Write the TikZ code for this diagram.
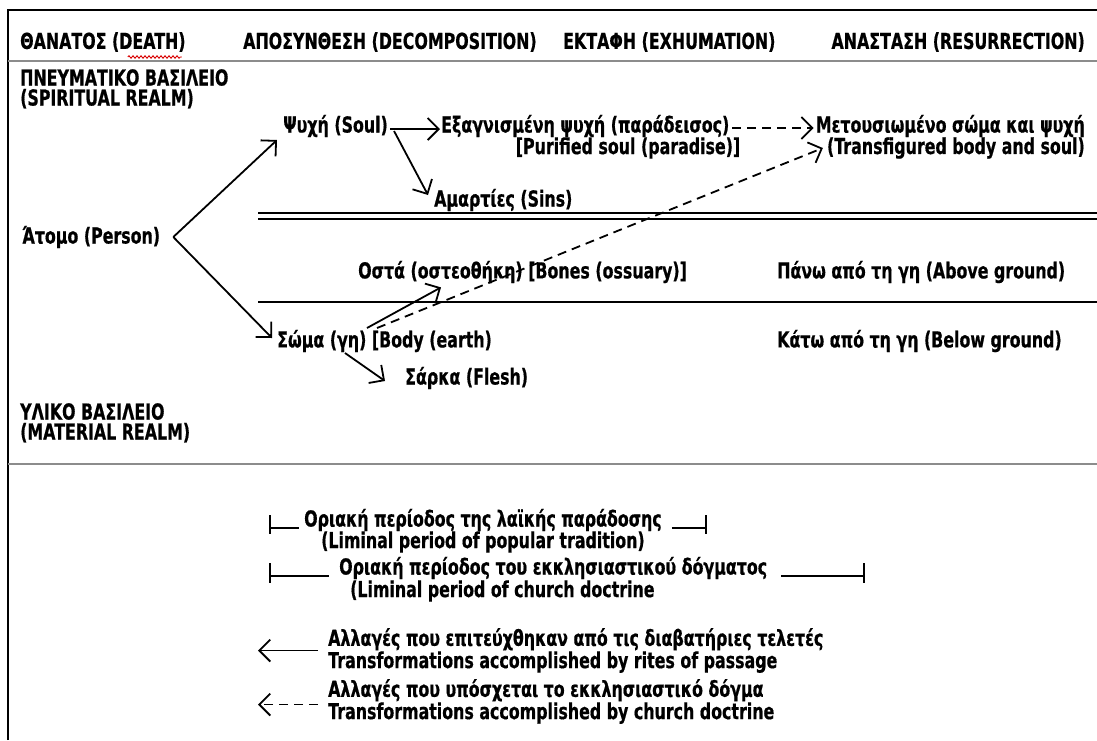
\documentclass[tikz,border=0pt]{standalone}
\usepackage{fontspec}
\newfontfamily\hand{DejaVu Sans}[FakeStretch=0.72,FakeBold=0.6]
\usetikzlibrary{arrows.meta,calc,decorations.pathmorphing}
\tikzset{
  txt/.style={inner sep=0pt, anchor=west, font=\hand\bfseries\fontsize{22}{20}\selectfont},
  two/.style={txt, align=left, anchor=north west},
  arr/.style={line width=1.8pt, -{Straight Barb[length=11pt,width=22pt]}},
  darr/.style={arr, dash pattern=on 9pt off 6pt},
  rule/.style={line width=2pt},
  grayrule/.style={line width=1.2pt, black!45},
  frame/.style={line width=1.6pt},
  tick/.style={line width=1.8pt}
}
\begin{document}
\begin{tikzpicture}[x=1pt,y=-1pt]
\useasboundingbox (0,0) rectangle (1097,740);
\fill[white] (0,0) rectangle (1097,740);
% frame and separators
\draw[frame] (8,740) -- (8,10) -- (1097,10);
\draw[grayrule] (8,61) -- (1097,61);
\draw[grayrule] (8,464) -- (1097,464);
% header
\node[txt] (h1) at (20,42) {ΘΑΝΑΤΟΣ (DEATH)};
\node[txt] (h2) at (243,42) {ΑΠΟΣΥΝΘΕΣΗ (DECOMPOSITION)};
\node[txt] (h3) at (563,42) {ΕΚΤΑΦΗ (EXHUMATION)};
\node[txt, anchor=east] (h4) at (1085,42) {ΑΝΑΣΤΑΣΗ (RESURRECTION)};
\draw[red!85!black, line width=0.9pt, decorate, decoration={snake, amplitude=1.2pt, segment length=4pt}]
  ($(h1.south east)+(-58,5)$) -- ($(h1.south east)+(-4,5)$);
% realms
\node[two] (spirit) at (20,69) {ΠΝΕΥΜΑΤΙΚΟ ΒΑΣΙΛΕΙΟ\\(SPIRITUAL REALM)};
\node[two] (matter) at (20,403) {ΥΛΙΚΟ ΒΑΣΙΛΕΙΟ\\(MATERIAL REALM)};
% ground lines
\draw[rule] (258,213) -- (1097,213);
\draw[rule] (258,219) -- (1097,219);
\draw[rule] (258,302) -- (1097,302);
% main nodes
\node[txt] (atomo) at (22,237) {Άτομο (Person)};
\node[txt] (psy) at (283,126) {Ψυχή (Soul)};
\node[txt] (puri) at (441,126) {Εξαγνισμένη ψυχή (παράδεισος)};
\node[txt, anchor=center] (purien) at (628,148) {[Purified soul (paradise)]};
\node[txt, anchor=east] (trans) at (1085,126) {Μετουσιωμένο σώμα και ψυχή};
\node[txt, anchor=east] (transen) at (1085,148) {(Transfigured body and soul)};
\node[txt] (sins) at (434,200) {Αμαρτίες (Sins)};
\node[txt] (osta) at (358,272) {Οστά (οστεοθήκη) [Bones (ossuary)]};
\node[txt] (above) at (777,272) {Πάνω από τη γη (Above ground)};
\node[txt] (soma) at (277,341) {Σώμα (γη) [Body (earth)};
\node[txt] (below) at (777,341) {Κάτω από τη γη (Below ground)};
\node[txt] (flesh) at (405,378) {Σάρκα (Flesh)};
% connector points
\coordinate (av) at ($(atomo.east)+(13,0)$);
\coordinate (psyin) at ($(psy.west)+(-6,14)$);
\coordinate (somain) at ($(soma.west)+(-5,-3)$);
% connectors
\draw[arr] (av) -- (psyin);
\draw[arr] (av) -- (somain);
\draw[arr] ($(psy.east)+(2,3)$) -- ($(puri.west)+(-1,3)$);
\draw[arr] ($(psy.east)+(6,5)$) -- ($(sins.west)+(-6,-5)$);
\draw[darr] ($(puri.east)+(3,2)$) -- ($(trans.west)+(-2,2)$);
\draw[arr] ($(soma.west)+(90,-13)$) -- ($(osta.south west)+(83,4)$);
\draw[darr] ($(soma.west)+(100,-13)$) -- ($(transen.west)+(-4,0)$);
\draw[arr] ($(soma.west)+(68,12)$) -- ($(flesh.west)+(-20,3)$);
% legend: liminal periods
\node[txt] (lim1) at (304,520) {Οριακή περίοδος της λαϊκής παράδοσης};
\node[txt] (lim1en) at (321,542) {(Liminal period of popular tradition)};
\coordinate (l1a) at (270,528);
\coordinate (l1b) at ($(lim1.west)+(-5,8)$);
\coordinate (l1c) at ($(lim1.east)+(10,8)$);
\coordinate (l1d) at ($(lim1.east)+(44,8)$);
\draw[tick] ($(l1a)+(0,-13)$) -- ($(l1a)+(0,6)$);
\draw[tick] (l1a) -- (l1b);
\draw[tick] (l1c) -- (l1d);
\draw[tick] ($(l1d)+(0,-13)$) -- ($(l1d)+(0,6)$);
\node[txt] (lim2) at (339,568) {Οριακή περίοδος του εκκλησιαστικού δόγματος};
\node[txt] (lim2en) at (350,591) {(Liminal period of church doctrine};
\coordinate (l2a) at (270,576);
\coordinate (l2b) at ($(lim2.west)+(-10,8)$);
\coordinate (l2c) at ($(lim2.east)+(14,8)$);
\coordinate (l2d) at (864,576);
\draw[tick] ($(l2a)+(0,-13)$) -- ($(l2a)+(0,7)$);
\draw[tick] (l2a) -- (l2b);
\draw[tick] (l2c) -- (l2d);
\draw[tick] ($(l2d)+(0,-13)$) -- ($(l2d)+(0,7)$);
% legend: arrows
\node[two] (leg1) at (328,628) {Αλλαγές που επιτεύχθηκαν από τις διαβατήριες τελετές\\Transformations accomplished by rites of passage};
\node[two] (leg2) at (328,679) {Αλλαγές που υπόσχεται το εκκλησιαστικό δόγμα\\Transformations accomplished by church doctrine};
\coordinate (l1s) at ($(leg1.west)+(-10,0)$);
\coordinate (l1e) at ($(leg1.west)+(-70,0)$);
\coordinate (l2s) at ($(leg2.west)+(-10,3)$);
\coordinate (l2e) at ($(leg2.west)+(-70,3)$);
\draw[arr] (l1s) -- (l1e);
\draw[darr] (l2s) -- (l2e);
\end{tikzpicture}
\end{document}
